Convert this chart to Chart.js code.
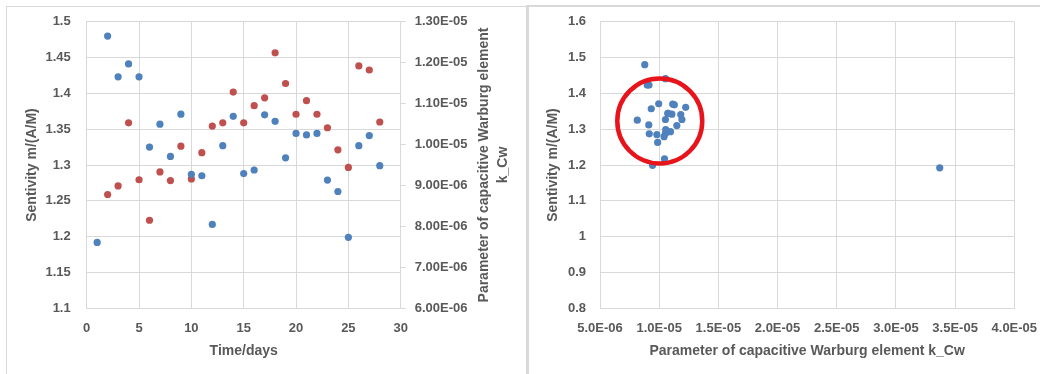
<!DOCTYPE html>
<html>
<head>
<meta charset="utf-8">
<script src="https://cdn.jsdelivr.net/npm/chart.js@4"></script>
<style>
  html, body { margin: 0; padding: 0; background: #fff; }
  body { width: 1040px; height: 374px; position: relative; overflow: hidden; }
  .panel { position: absolute; top: 0; }
  .frame { position: absolute; background: #d9d9d9; }
</style>
</head>
<body>
<div class="panel" style="left:0;width:526px;height:374px"><canvas id="timeChart" width="526" height="374"></canvas></div>
<div class="panel" style="left:529px;width:511px;height:374px"><canvas id="corrChart" width="511" height="374"></canvas></div>
<!-- chart area borders -->
<div class="frame" style="left:6px;top:6px;width:520px;height:1px"></div>
<div class="frame" style="left:6px;top:6px;width:1px;height:368px"></div>
<div class="frame" style="left:526px;top:5px;width:514px;height:2px"></div>
<div class="frame" style="left:526px;top:5px;width:3px;height:369px"></div>
<script>
// measurement days
const days = [1, 2, 3, 4, 5, 6, 7, 8, 9, 10, 11, 12, 13, 14, 15, 16, 17, 18, 19, 20, 21, 22, 23, 24, 25, 26, 27, 28];

// sensitivity m/(A/M) per day
const sensitivity = [1.192, 1.480, 1.423, 1.441, 1.423, 1.325, 1.357, 1.312, 1.371, 1.287,
  1.285, 1.217, 1.327, 1.368, 1.288, 1.293, 1.370, 1.361, 1.310, 1.344,
  1.342, 1.344, 1.279, 1.263, 1.199, 1.327, 1.341, 1.299];

// capacitive Warburg element k_Cw per day
const kCw = [3.37e-5, 8.78e-6, 8.99e-6, 1.053e-5, 9.14e-6, 8.15e-6, 9.33e-6, 9.12e-6, 9.96e-6, 9.16e-6,
  9.80e-6, 1.045e-5, 1.053e-5, 1.128e-5, 1.053e-5, 1.095e-5, 1.114e-5, 1.224e-5, 1.149e-5, 1.074e-5,
  1.107e-5, 1.074e-5, 1.041e-5, 9.87e-6, 9.44e-6, 1.192e-5, 1.182e-5, 1.055e-5];

const dayTicks = [0, 30, 5];
const sensTicksLeft = [1.1, 1.5, 0.05];
const kTicksLeft = [6e-6, 1.3e-5, 1e-6];
const sensTicksRight = [0.8, 1.6, 0.1];
const kTicksRight = [5e-6, 4e-5, 5e-6];

const BLUE = '#4f81bd';
const RED = '#c0504d';
const GRID = '#d9d9d9';
const TEXT = '#595959';
const FONT = 'Liberation Sans';

Chart.defaults.font.family = FONT;
Chart.defaults.color = TEXT;

// Excel style exponent: 1.30E-05
function sci(v, digits) {
  const parts = v.toExponential(digits).split('e');
  const n = parseInt(parts[1], 10);
  return parts[0] + 'E' + (n < 0 ? '-' : '+') + String(Math.abs(n)).padStart(2, '0');
}
function plain(v) {
  return String(+v.toFixed(2));
}

const tickFont = { size: 13, weight: 'bold' };
const titleFont = { size: 14, weight: 'bold' };

function pairs(xs, ys) {
  return xs.map((x, i) => ({ x: x, y: ys[i] }));
}

// fixed axis box sizes, and no extra room for overhanging labels
function fixHeight(h) {
  return s => { s.height = h; s.paddingLeft = 0; s.paddingRight = 0; };
}
function fixWidth(w) {
  return s => { s.width = w; s.paddingTop = 0; s.paddingBottom = 0; };
}

// right-hand axis title, rotated to read bottom-up
const rightTitle = {
  id: 'rightTitle',
  afterDraw(chart) {
    const s = chart.scales.y2;
    const ctx = chart.ctx;
    const cy = (chart.chartArea.top + chart.chartArea.bottom) / 2;
    const lines = ['Parameter of capacitive Warburg element', 'k_Cw'];
    ctx.save();
    ctx.font = 'bold 14px "' + FONT + '"';
    ctx.fillStyle = TEXT;
    ctx.textAlign = 'center';
    ctx.textBaseline = 'middle';
    lines.forEach((t, i) => {
      ctx.save();
      ctx.translate(s.left + 83.5 + i * 19, cy);
      ctx.rotate(-Math.PI / 2);
      ctx.fillText(t, 0, 0);
      ctx.restore();
    });
    ctx.restore();
  }
};

new Chart(document.getElementById('timeChart'), {
  type: 'scatter',
  data: {
    datasets: [
      { label: 'Sensitivity', data: pairs(days, sensitivity), yAxisID: 'y',
        backgroundColor: BLUE, borderWidth: 0, pointRadius: 3.6 },
      { label: 'k_Cw', data: pairs(days, kCw), yAxisID: 'y2',
        backgroundColor: RED, borderWidth: 0, pointRadius: 3.6 }
    ]
  },
  options: {
    responsive: false,
    animation: false,
    layout: { padding: { top: 21.7, left: 0, right: 0, bottom: 0 } },
    plugins: { legend: { display: false }, tooltip: { enabled: false } },
    scales: {
      x: {
        type: 'linear', min: dayTicks[0], max: dayTicks[1],
        ticks: { stepSize: dayTicks[2], font: tickFont, padding: 12 },
        grid: { color: GRID, drawTicks: false },
        border: { color: GRID },
        title: { display: true, text: 'Time/days', font: titleFont, padding: { bottom: 14 } },
        afterFit: fixHeight(65.7)
      },
      y: {
        position: 'left', min: sensTicksLeft[0], max: sensTicksLeft[1],
        ticks: { stepSize: sensTicksLeft[2], font: tickFont, padding: 16, callback: plain },
        grid: { color: GRID, drawTicks: false },
        border: { color: GRID },
        title: { display: true, text: 'Sentivity m/(A/M)', font: titleFont, padding: { top: 24 } },
        afterFit: fixWidth(86.7)
      },
      y2: {
        position: 'right', min: kTicksLeft[0], max: kTicksLeft[1],
        ticks: { stepSize: kTicksLeft[2], font: tickFont, padding: 9, callback: v => sci(v, 2) },
        grid: { color: GRID, drawOnChartArea: false, drawTicks: true, tickLength: 5 },
        border: { color: GRID },
        afterFit: fixWidth(125.3)
      }
    }
  },
  plugins: [rightTitle]
});

// ring around the main cluster, in data units
const cluster = { x: 1.005e-5, y: 1.323, r: 0.1186 };

const clusterRing = {
  id: 'clusterRing',
  afterDatasetsDraw(chart) {
    const xs = chart.scales.x, ys = chart.scales.y;
    const cx = xs.getPixelForValue(cluster.x);
    const cy = ys.getPixelForValue(cluster.y);
    const r = Math.abs(ys.getPixelForValue(cluster.y + cluster.r) - cy);
    const ctx = chart.ctx;
    ctx.save();
    ctx.strokeStyle = '#e8141c';
    ctx.lineWidth = 4.5;
    ctx.beginPath();
    ctx.arc(cx, cy, r, 0, Math.PI * 2);
    ctx.stroke();
    ctx.restore();
  }
};

new Chart(document.getElementById('corrChart'), {
  type: 'scatter',
  data: {
    datasets: [
      { label: 'Sensitivity vs k_Cw', data: pairs(kCw, sensitivity),
        backgroundColor: BLUE, borderWidth: 0, pointRadius: 3.6 }
    ]
  },
  options: {
    responsive: false,
    animation: false,
    layout: { padding: { top: 21.7, left: 0, right: 25.7, bottom: 0 } },
    plugins: { legend: { display: false }, tooltip: { enabled: false } },
    scales: {
      x: {
        type: 'linear', min: kTicksRight[0], max: kTicksRight[1],
        ticks: { stepSize: kTicksRight[2], font: tickFont, padding: 12, callback: v => sci(v, 1) },
        grid: { color: GRID, drawTicks: false },
        border: { color: GRID },
        title: { display: true, text: 'Parameter of capacitive Warburg element k_Cw', font: titleFont, padding: { bottom: 14 } },
        afterFit: fixHeight(65.7)
      },
      y: {
        min: sensTicksRight[0], max: sensTicksRight[1],
        ticks: { stepSize: sensTicksRight[2], font: tickFont, padding: 14, callback: plain },
        grid: { color: GRID, drawTicks: false },
        border: { color: GRID },
        title: { display: true, text: 'Sentivity m/(A/M)', font: titleFont, padding: { top: 15.5 } },
        afterFit: fixWidth(71)
      }
    }
  },
  plugins: [clusterRing]
});
</script>
</body>
</html>
